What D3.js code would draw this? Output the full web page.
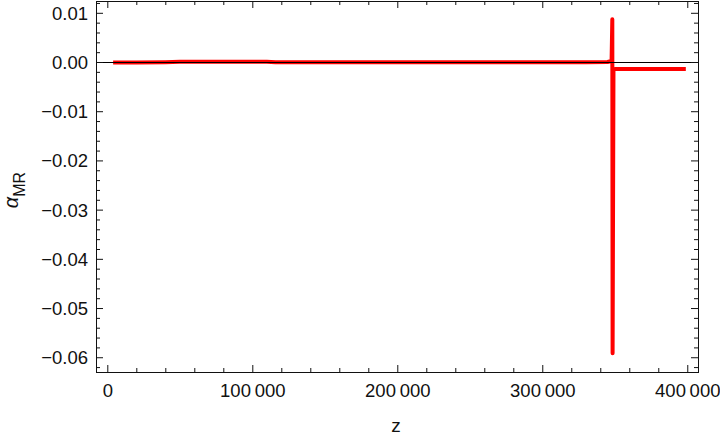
<!DOCTYPE html>
<html>
<head>
<meta charset="utf-8">
<script src="https://cdn.jsdelivr.net/npm/d3@7"></script>
<style>
  body { margin: 0; background: #fff; }
  svg text { font-family: "Liberation Sans", Arial, sans-serif; fill: #111; }
</style>
</head>
<body>
<div id="chart"></div>
<script>
// data
var zValues = [4000, 20000, 40000, 50000, 80000, 110000, 116000, 160000, 220000, 280000, 330000,
  345000, 347800, 348300, 348500, 349100, 350500, 360000, 380000, 399000];
var alphaValues = [-0.0001, -0.00008, -0.00003, 0.00004, 0.00005, 0.00005, -0.00004, -0.00004, -0.00004, -0.00004, -0.00004,
  0.0000, 0.0002, 0.0087, -0.0592, -0.0015, -0.0014, -0.0014, -0.0014, -0.0014];
var xMajorTicks = [0, 100000, 200000, 300000, 400000];
var yMajorTicks = [0.01, 0.00, -0.01, -0.02, -0.03, -0.04, -0.05, -0.06];

var svgWidth = 720;
var svgHeight = 437;

var margin = { top: 1, bottom: 65, right: 22, left: 96 };
var width = svgWidth - margin.left - margin.right;
var height = svgHeight - margin.top - margin.bottom;

var svg = d3.select("#chart")
  .append("svg")
  .attr("width", svgWidth)
  .attr("height", svgHeight);

var chartGroup = svg.append("g")
  .attr("transform", `translate(${margin.left}, ${margin.top})`);

// scales
var xScale = d3.scaleLinear()
  .domain([-7800, 407400])
  .range([0, width]);

var yScale = d3.scaleLinear()
  .domain([-0.0630, 0.0124])
  .range([height, 0]);

// minor ticks
var xMinor = d3.range(0, 400001, 20000).filter(d => d % 100000 !== 0);
var yMinor = d3.range(-62, 13, 2).map(d => d / 1000).filter(d => Math.abs(Math.round(d * 1000)) % 10 !== 0);

var fmtX = function(d) {
  return d3.format(",")(d).replace(/,/g, "\u2009");
};
var fmtY = d3.format(".2f");

// the curve
var line = d3.line()
  .x((d, i) => xScale(zValues[i]))
  .y(d => yScale(d));

chartGroup.append("path")
  .datum(alphaValues)
  .attr("fill", "none")
  .attr("stroke", "#ff0000")
  .attr("stroke-width", 4)
  .attr("stroke-linejoin", "round")
  .attr("d", line);

// zero axis line drawn on top
chartGroup.append("line")
  .attr("x1", 0)
  .attr("x2", width)
  .attr("y1", Math.round(yScale(0)) + 0.5)
  .attr("y2", Math.round(yScale(0)) + 0.5)
  .attr("stroke", "#000")
  .attr("stroke-width", 1);

// axes with inward ticks
function styleAxis(g) {
  g.select(".domain").remove();
  g.selectAll("line").attr("stroke", "#111");
}

chartGroup.append("g")
  .attr("transform", `translate(0, ${height})`)
  .call(d3.axisBottom(xScale).tickValues(xMinor).tickSize(-4).tickFormat(""))
  .call(styleAxis);

var xAxisG = chartGroup.append("g")
  .attr("transform", `translate(0, ${height})`)
  .call(d3.axisBottom(xScale).tickValues(xMajorTicks).tickSize(-7).tickFormat(fmtX))
  .call(styleAxis);

xAxisG.selectAll("text")
  .attr("y", 25)
  .attr("dy", 0)
  .style("font-size", "18.5px")
  .style("fill", "#111");

chartGroup.append("g")
  .call(d3.axisTop(xScale).tickValues(xMinor).tickSize(-4).tickFormat(""))
  .call(styleAxis);

chartGroup.append("g")
  .call(d3.axisTop(xScale).tickValues(xMajorTicks).tickSize(-7).tickFormat(""))
  .call(styleAxis);

chartGroup.append("g")
  .call(d3.axisLeft(yScale).tickValues(yMinor).tickSize(-4).tickFormat(""))
  .call(styleAxis);

var yAxisG = chartGroup.append("g")
  .call(d3.axisLeft(yScale).tickValues(yMajorTicks).tickSize(-7).tickFormat(fmtY))
  .call(styleAxis);

yAxisG.selectAll("text")
  .attr("x", -8)
  .attr("dy", "0.35em")
  .style("font-size", "18.5px")
  .style("fill", "#111");

chartGroup.append("g")
  .attr("transform", `translate(${width}, 0)`)
  .call(d3.axisRight(yScale).tickValues(yMinor).tickSize(-4).tickFormat(""))
  .call(styleAxis);

chartGroup.append("g")
  .attr("transform", `translate(${width}, 0)`)
  .call(d3.axisRight(yScale).tickValues(yMajorTicks).tickSize(-7).tickFormat(""))
  .call(styleAxis);

// frame
chartGroup.append("rect")
  .attr("x", 0.5)
  .attr("y", 0.5)
  .attr("width", width)
  .attr("height", height)
  .attr("fill", "none")
  .attr("stroke", "#111")
  .attr("stroke-width", 1);

// axis labels
svg.append("text")
  .attr("x", 396)
  .attr("y", 432)
  .attr("text-anchor", "middle")
  .style("font-size", "19px")
  .text("z");

var yLabel = svg.append("text")
  .attr("transform", "translate(18, 190) rotate(-90)")
  .attr("text-anchor", "middle")
  .style("font-size", "20px");

yLabel.append("tspan")
  .style("font-style", "italic")
  .text("\u03b1");

yLabel.append("tspan")
  .attr("dy", 7)
  .style("font-size", "16px")
  .text("MR");
</script>
</body>
</html>
